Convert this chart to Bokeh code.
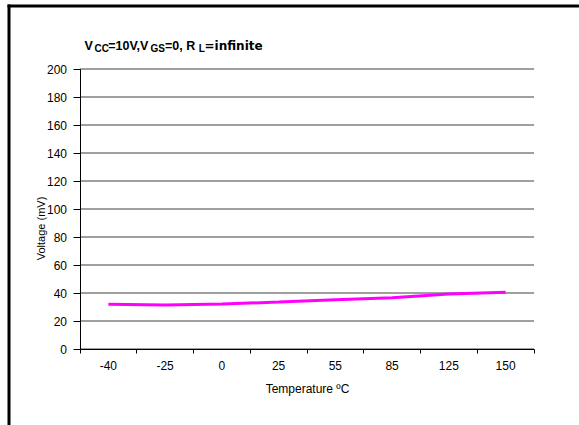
import math
from bokeh.plotting import figure
from bokeh.models import Range1d, FixedTicker, Label
from bokeh.embed import file_html
from bokeh.resources import INLINE

# ---- data ----
temperatures = ["-40", "-25", "0", "25", "55", "85", "125", "150"]
voltage_mv = [32.0, 31.4, 32.2, 33.5, 35.2, 36.6, 39.2, 40.6]
y_ticks = [0, 20, 40, 60, 80, 100, 120, 140, 160, 180, 200]
title_parts = ["V", "CC", "=10V,V", "GS", "=0, R", "L", "=infinite"]
y_label = "Voltage (mV)"
x_label = "Temperature ºC"

FONT = "Liberation Sans"
W, H = 579, 425
FW, FH = W, H                 # frame size on the page
# where the plotting area sits on the page (pixels)
FRAME_L, FRAME_R, FRAME_T, FRAME_B = 79.5, 533.5, 68.5, 348.5

n = len(temperatures)
centers = [i + 0.5 for i in range(n)]
bounds = list(range(n + 1))
y_min, y_max = y_ticks[0], y_ticks[-1]

# the frame fills the whole page; axes are pinned at the data origin
ppx = (FRAME_R - FRAME_L) / n
ppy = (FRAME_B - FRAME_T) / (y_max - y_min)
x_range = Range1d(-FRAME_L / ppx, n + (FW - FRAME_R) / ppx)
y_range = Range1d(y_min - (FH - FRAME_B) / ppy, y_max + FRAME_T / ppy)


def page_x(px):
    return (px - FRAME_L) / ppx


def page_y(py):
    return y_min + (FRAME_B - py) / ppy


def sy(py):
    """page y (from top) -> screen units of the frame (from its bottom)."""
    return FH - py


p = figure(width=W, height=H, output_backend="svg", toolbar_location=None,
           x_range=x_range, y_range=y_range, min_border=0)
p.outline_line_color = None
p.background_fill_color = "white"
p.border_fill_color = "white"
p.grid.visible = False

# horizontal grid lines, limited to the plotting area
for t in y_ticks:
    p.line([0, n], [t, t], line_color="#404040", line_width=1)

p.line(centers, voltage_mv, line_color="#FF00FF", line_width=3)

# keep the page edges clean (drawn last, over everything)
p.quad(left=[page_x(W - 12), page_x(-5), page_x(-5), page_x(-5)],
       right=[page_x(W + 5), page_x(W + 5), page_x(6), page_x(W + 5)],
       top=[page_y(-5), page_y(H - 10), page_y(-5), page_y(-5)],
       bottom=[page_y(H + 5), page_y(H + 5), page_y(H + 5), page_y(3.5)],
       fill_color="white", line_color=None, level="overlay")

# outer frame lines (top and left) of the original picture
p.quad(left=[page_x(7), page_x(7)], right=[page_x(10), page_x(W + 5)],
       top=[page_y(4), page_y(4)], bottom=[page_y(H + 5), page_y(7)],
       fill_color="black", line_color=None, level="overlay")

xa = p.xaxis[0]
xa.fixed_location = y_min
xa.bounds = (0, n)
xa.ticker = FixedTicker(ticks=centers, minor_ticks=bounds)
xa.major_label_overrides = {c: t for c, t in zip(centers, temperatures)}
xa.major_tick_out = 0
xa.major_tick_in = 0
xa.minor_tick_out = 4
xa.minor_tick_in = 0
xa.minor_tick_line_color = "black"
xa.axis_line_color = "black"
xa.major_label_standoff = 8
xa.major_label_text_font = FONT
xa.major_label_text_font_size = "12px"
xa.major_label_text_color = "black"
xa.axis_label = x_label
xa.axis_label_text_font = FONT
xa.axis_label_text_font_size = "12px"
xa.axis_label_text_font_style = "normal"
xa.axis_label_text_color = "black"
xa.axis_label_standoff = 8

ya = p.yaxis[0]
ya.fixed_location = 0
ya.bounds = (y_min, y_max)
ya.ticker = FixedTicker(ticks=y_ticks, minor_ticks=[])
ya.major_tick_out = 7
ya.major_tick_in = 0
ya.major_tick_line_color = "black"
ya.axis_line_color = "black"
ya.major_label_standoff = 6
ya.major_label_text_font = FONT
ya.major_label_text_font_size = "12px"
ya.major_label_text_color = "black"

# y axis title
p.add_layout(Label(text=y_label, x=40.5, y=sy(228), x_units="screen",
                   y_units="screen", angle=math.pi / 2, text_align="center",
                   text_baseline="alphabetic", text_font=FONT,
                   text_font_size="11px", text_color="black"))

# chart title with subscripts
part_x = [84, 94, 107.7, 150, 164.5, 198.3, 204]
part_y = [45.7, 48, 45.7, 48, 45.7, 48, 45.7]
part_fs = ["12.5px", "10px", "12.5px", "10px", "12.5px", "10px", "12px"]
part_font = [FONT] * 6 + ["DejaVu Sans"]
for txt, px, py, fs, fn in zip(title_parts, part_x, part_y, part_fs, part_font):
    p.add_layout(Label(text=txt, x=px, y=sy(py), x_units="screen",
                       y_units="screen", text_align="left",
                       text_baseline="alphabetic", text_font=fn,
                       text_font_style="bold", text_font_size=fs,
                       text_color="black"))

open("out.html", "w").write(file_html(p, INLINE))
